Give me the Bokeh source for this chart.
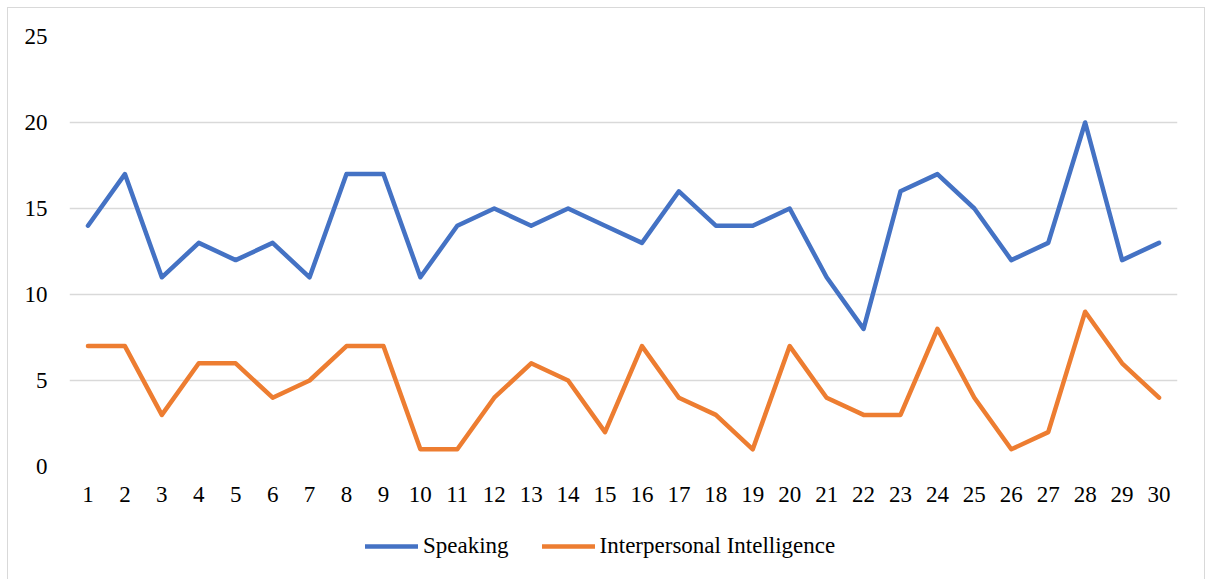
from bokeh.plotting import figure
from bokeh.models import Legend, LegendItem, FixedTicker, Range1d
from bokeh.layouts import column
from bokeh.embed import file_html
from bokeh.resources import INLINE

students = list(range(1, 31))
speaking = [14, 17, 11, 13, 12, 13, 11, 17, 17, 11, 14, 15, 14, 15, 14, 13, 16, 14, 14, 15,
            11, 8, 16, 17, 15, 12, 13, 20, 12, 13]
interpersonal = [7, 7, 3, 6, 6, 4, 5, 7, 7, 1, 1, 4, 6, 5, 2, 7, 4, 3, 1, 7,
                 4, 3, 3, 8, 4, 1, 2, 9, 6, 4]
y_ticks = [0, 5, 10, 15, 20, 25]
series_names = ["Speaking", "Interpersonal Intelligence"]
series_colors = ["#4472C4", "#ED7D31"]

FONT = "Liberation Serif"
W = 1196

p = figure(width=W, height=517, output_backend="svg", toolbar_location=None,
           x_range=Range1d(0.5, 30.5), y_range=Range1d(0, 25),
           min_border_left=61, min_border_right=27, min_border_top=28, min_border_bottom=59)
p.outline_line_color = None
p.background_fill_color = "white"
p.border_fill_color = "white"

for vals, col in zip([speaking, interpersonal], series_colors):
    p.line(students, vals, line_color=col, line_width=4.5, line_join="round", line_cap="round")

p.xaxis.ticker = FixedTicker(ticks=students)
p.yaxis.ticker = FixedTicker(ticks=y_ticks)
for ax in (p.xaxis[0], p.yaxis[0]):
    ax.axis_line_color = None
    ax.major_tick_line_color = None
    ax.minor_tick_line_color = None
    ax.major_tick_out = 0
    ax.major_label_text_font = FONT
    ax.major_label_text_font_size = "23px"
    ax.major_label_text_color = "black"
p.xaxis.major_label_standoff = 20
p.yaxis.major_label_standoff = 22
p.xgrid.grid_line_color = None
p.ygrid.grid_line_color = "#d9d9d9"
p.ygrid.grid_line_width = 1.5

# legend strip (series drawn outside its visible range; only the legend shows)
q = figure(width=W, height=55, output_backend="svg", toolbar_location=None,
           x_range=Range1d(-100, -99), y_range=Range1d(-100, -99),
           min_border_left=0, min_border_right=0, min_border_top=0, min_border_bottom=0)
q.outline_line_color = None
q.axis.visible = False
q.grid.visible = False
items = []
for name, vals, col in zip(series_names, [speaking, interpersonal], series_colors):
    r = q.line(students, vals, line_color=col, line_width=4.5, line_cap="round")
    items.append(LegendItem(label=name, renderers=[r]))
legend = Legend(items=items, orientation="horizontal", location=(296, 21),
                label_text_font=FONT, label_text_font_size="23px", label_text_color="black",
                glyph_width=53, glyph_height=20, spacing=33, padding=0, margin=0,
                label_standoff=5, border_line_color=None, background_fill_alpha=0)
q.add_layout(legend, "center")

layout = column(p, q, spacing=0, margin=(7, 0, 0, 7), styles={"border": "1px solid #d9d9d9"})
open("out.html", "w").write(file_html(layout, INLINE))
